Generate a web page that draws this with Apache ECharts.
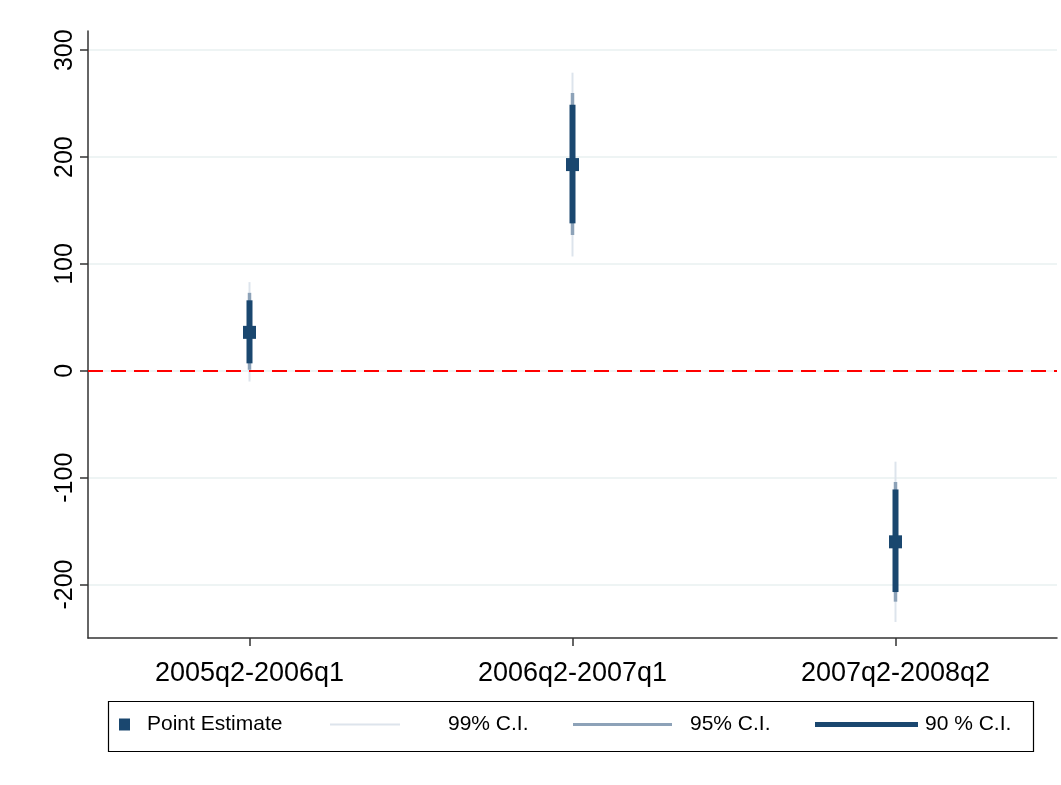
<!DOCTYPE html>
<html><head><meta charset="utf-8">
<script src="https://cdn.jsdelivr.net/npm/echarts@6/dist/echarts.min.js"></script>
<style>html,body{margin:0;padding:0;background:#fff}#c{width:1061px;height:785px}</style>
</head><body><div id="c"></div>
<script>
const categories = ['2005q2-2006q1', '2006q2-2007q1', '2007q2-2008q2'];
const pointEstimate = [36, 193, -160];
const ci99Low = [-10, 107, -235];
const ci99High = [83, 279, -85];
const ci95Low = [1, 127, -216];
const ci95High = [73, 260, -104];
const ci90Low = [7, 138, -207];
const ci90High = [66, 249, -111];
const yTicks = [-200, -100, 0, 100, 200, 300];

const NAVY = '#1a476f';
const MID = '#8da2b8';
const LIGHT = '#dde4ec';

function ciSeries(name, lows, highs, color, width) {
  return {
    name: name, type: 'custom', color: color, itemStyle: {color: color},
    data: categories.map((c, i) => [i, lows[i], highs[i]]),
    encode: {x: 0, y: [1, 2]},
    renderItem: function (params, api) {
      const a = api.coord([api.value(0), api.value(1)]);
      const b = api.coord([api.value(0), api.value(2)]);
      return {type: 'line', shape: {x1: a[0], y1: a[1], x2: b[0], y2: b[1]},
        style: {stroke: color, lineWidth: width}};
    },
    z: width
  };
}

const chart = echarts.init(document.getElementById('c'));
const font = 'Liberation Sans, Arial, sans-serif';
function legendAt(name, left, iw, ih, icon, color, pad) {
  return {
    show: true, data: [{name: name, icon: icon, itemStyle: {color: color}}],
    left: left, top: 714, itemWidth: iw, itemHeight: ih, padding: 0,
    selectedMode: false,
    textStyle: {fontFamily: font, fontSize: 21, color: '#000', padding: [0, 0, 0, pad]}
  };
}
chart.setOption({
  animation: false,
  backgroundColor: '#fff',
  grid: {left: 88, right: 4, top: 31, bottom: 147},
  xAxis: {
    type: 'category', data: categories, boundaryGap: true,
    axisLine: {onZero: false, lineStyle: {color: '#333', width: 1.5}},
    axisTick: {show: true, inside: false, alignWithLabel: true, length: 8, lineStyle: {color: '#333', width: 1.5}},
    axisLabel: {fontFamily: font, fontSize: 27, color: '#000', margin: 22},
    splitLine: {show: false}
  },
  yAxis: {
    type: 'value', min: -250, max: 318,
    axisLine: {show: true, onZero: false, lineStyle: {color: '#333', width: 1.5}},
    axisTick: {show: true, length: 8, customValues: yTicks, lineStyle: {color: '#333', width: 1.5}},
    axisLabel: {fontFamily: font, fontSize: 25, color: '#000', rotate: 90, margin: 10, customValues: yTicks},
    splitLine: {show: true, lineStyle: {color: '#e8f0f1', width: 1.5}}
  },
  legend: [
    legendAt('Point Estimate', 119, 11, 12, 'rect', NAVY, 12),
    legendAt('99% C.I.', 330, 70, 2, 'rect', LIGHT, 43),
    legendAt('95% C.I.', 573, 99, 3, 'rect', MID, 13),
    legendAt('90 % C.I.', 815, 103, 5, 'rect', NAVY, 2)
  ],
  graphic: [{type: 'rect', left: 106, top: 699, shape: {width: 925, height: 50},
    style: {fill: 'none', stroke: '#000', lineWidth: 1.2}, silent: true, z: -1}],
  series: [
    ciSeries('99% C.I.', ci99Low, ci99High, LIGHT, 2),
    ciSeries('95% C.I.', ci95Low, ci95High, MID, 3.5),
    ciSeries('90 % C.I.', ci90Low, ci90High, NAVY, 6),
    {
      name: 'Point Estimate', type: 'scatter', symbol: 'rect', symbolSize: 13,
      itemStyle: {color: NAVY, opacity: 1}, data: pointEstimate.map((v, i) => [i, v]), z: 10,
      markLine: {silent: true, symbol: 'none', label: {show: false},
        lineStyle: {color: '#ff0000', type: [15, 8], width: 2},
        data: [{yAxis: 0}]}
    }
  ]
});
</script></body></html>
